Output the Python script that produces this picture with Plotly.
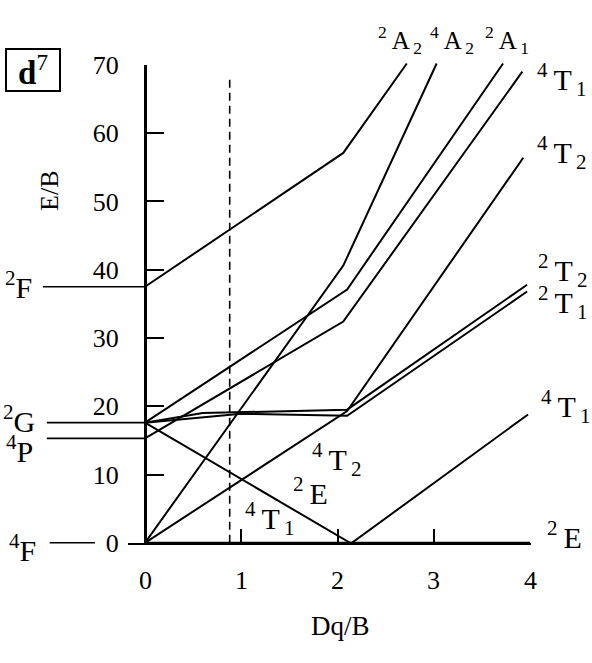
import plotly.graph_objects as go

W, H = 592, 663
SERIF = "Liberation Serif"

# d7 Tanabe-Sugano diagram, E/B against Dq/B
dq_2A2 = [0, 2.06, 2.72]
e_2A2 = [37.5, 57.1, 70.2]
dq_4A2 = [0, 2.06, 3.03]
e_4A2 = [0, 40.6, 70.2]
dq_2A1 = [0, 2.1, 3.72]
e_2A1 = [17.6, 37.1, 70.2]
dq_4T1_P = [0, 2.06, 3.92]
e_4T1_P = [15.3, 32.4, 69.0]
dq_4T2 = [0, 2.1, 3.93]
e_4T2 = [0, 19.3, 56.4]
dq_2T2 = [0, 0.6, 2.1, 3.97]
e_2T2 = [17.6, 19.0, 19.5, 37.8]
dq_2T1 = [0, 1.0, 2.1, 3.97]
e_2T1 = [17.6, 18.9, 18.6, 36.8]
dq_2E = [0, 2.13, 4.0]
e_2E = [17.6, 0, 0]
dq_4T1_F = [0, 2.15, 3.98]
e_4T1_F = [0, 0, 18.8]

free_terms = ["<sup>2</sup>F", "<sup>2</sup>G", "<sup>4</sup>P", "<sup>4</sup>F"]
free_e = [37.5, 17.6, 15.3, 0]

dq_marker = 0.88
marker_top = 68

x_ticks = [0, 1, 2, 3, 4]
y_ticks = [0, 10, 20, 30, 40, 50, 60, 70]

# pixel scale of the drawing: Dq/B=0 at x=145, 96.25 px per unit; E/B=0 at y=553, 7.14 px per unit
X0, SX, Y0, SY = 145, 96.25, 553, 7.14


def to_paper(xp, yp):
    return xp / W, 1 - yp / H


fig = go.Figure()

# dashed marker sits on the framed axes so that they get drawn
fig.add_trace(go.Scatter(x=[dq_marker, dq_marker], y=[0, marker_top], mode="lines",
                         line={"color": "black", "width": 1.6, "dash": "8px,5px"},
                         hoverinfo="skip", showlegend=False))

states = [
    (dq_2A2, e_2A2), (dq_4A2, e_4A2), (dq_2A1, e_2A1), (dq_4T1_P, e_4T1_P),
    (dq_4T2, e_4T2), (dq_2T2, e_2T2), (dq_2T1, e_2T1), (dq_2E, e_2E), (dq_4T1_F, e_4T1_F),
]
for xs, ys in states:
    fig.add_trace(go.Scatter(x=xs, y=ys, mode="lines", line={"color": "black", "width": 2},
                             xaxis="x2", yaxis="y2", hoverinfo="skip", showlegend=False))

# free-ion levels drawn out to the left of the energy axis
lead_start = [-1.06, -1.02, -1.02, -0.99]
lead_end = [0, 0, 0, -0.52]
for e, a, b in zip(free_e, lead_start, lead_end):
    fig.add_trace(go.Scatter(x=[a, b], y=[e, e], mode="lines", line={"color": "black", "width": 1.6},
                             xaxis="x2", yaxis="y2", hoverinfo="skip", showlegend=False))

annotations = []
TS = "\u2009"  # thin space, the print sets the indices a little apart


def term(mult, sym, sub=""):
    s = f"<sup>{mult}</sup>{TS}{sym}"
    if sub:
        s += f"<sub>{TS}{sub}</sub>"
    return s


def label(text, xp, yp, size=30, **kw):
    x, y = to_paper(xp, yp)
    annotations.append(dict(text=text, x=x, y=y, xref="paper", yref="paper", showarrow=False,
                            xanchor="center", yanchor="middle",
                            font={"family": SERIF, "size": size, "color": "black"}, **kw))


# x tick labels, placed on the Dq/B scale under the axis
for t in x_ticks:
    annotations.append(dict(text=str(t), x=t, xref="x", y=1 - 592 / H, yref="paper",
                            showarrow=False, xanchor="center", yanchor="middle",
                            font={"family": SERIF, "size": 26, "color": "black"}))

# free-ion terms
label(free_terms[0], 18, 283)
label(free_terms[1], 19, 424)
label(free_terms[2], 19, 455)
label(free_terms[3], 22, 558)

# strong-field labels on the right / top
label(term(2, "A", 2), 400, 27, size=25)
label(term(4, "A", 2), 452, 27, size=25)
label(term(2, "A", 1), 507, 27, size=25)
label(term(4, "T", 1), 562, 68)
label(term(4, "T", 2), 562, 145)
label(term(2, "T", 2), 563, 268)
label(term(2, "T", 1), 563, 302)
label(term(4, "T", 1), 566, 410)
label(term(2, "E"), 564, 545)

# labels inside the diagram
label(term(4, "T", 2), 337, 466)
label(term(2, "E"), 310, 499)
label(term(4, "T", 1), 270, 528)

# axis titles
label("E/B", 50, 185, size=26, textangle=-90)
label("Dq/B", 340, 640, size=27)

# d7 box
label("<b>d</b><sup>7</sup>", 33, 59, size=33, bordercolor="black", borderwidth=2,
      borderpad=1, width=50, height=38)

fig.update_layout(
    width=W, height=H,
    margin={"l": 0, "r": 0, "t": 0, "b": 0},
    paper_bgcolor="white",
    plot_bgcolor="rgba(0,0,0,0)",
    showlegend=False,
    annotations=annotations,
    xaxis={
        "domain": [128 / W, 530.5 / W],
        "range": [(128 - X0) / SX, (530.5 - X0) / SX],
        "anchor": "y",
        "showline": True, "linecolor": "black", "linewidth": 2,
        "ticks": "inside", "ticklen": 14, "tickwidth": 2, "tickcolor": "black",
        "tickmode": "array", "tickvals": x_ticks, "showticklabels": False,
        "showgrid": False, "zeroline": False, "fixedrange": True,
    },
    yaxis={
        "domain": [(H - Y0) / H, (H - Y0 + 70 * SY) / H],
        "range": [0, 70],
        "anchor": "free", "position": X0 / W, "side": "left",
        "showline": True, "linecolor": "black", "linewidth": 3,
        "ticks": "inside", "ticklen": 17, "tickwidth": 2, "tickcolor": "black",
        "tickmode": "array", "tickvals": y_ticks,
        "tickfont": {"family": SERIF, "size": 26, "color": "black"},
        "ticklabelstandoff": 20,
        "showgrid": False, "zeroline": False, "fixedrange": True,
    },
    xaxis2={
        "domain": [0, 1], "range": [(0 - X0) / SX, (W - X0) / SX],
        "anchor": "y2", "visible": False, "fixedrange": True,
    },
    yaxis2={
        "domain": [0, 1], "range": [(Y0 - H) / SY, Y0 / SY],
        "anchor": "x2", "visible": False, "fixedrange": True,
    },
)

fig.write_html("out.html", config={"displayModeBar": False},
               post_script="document.body.style.margin = '0px';")
